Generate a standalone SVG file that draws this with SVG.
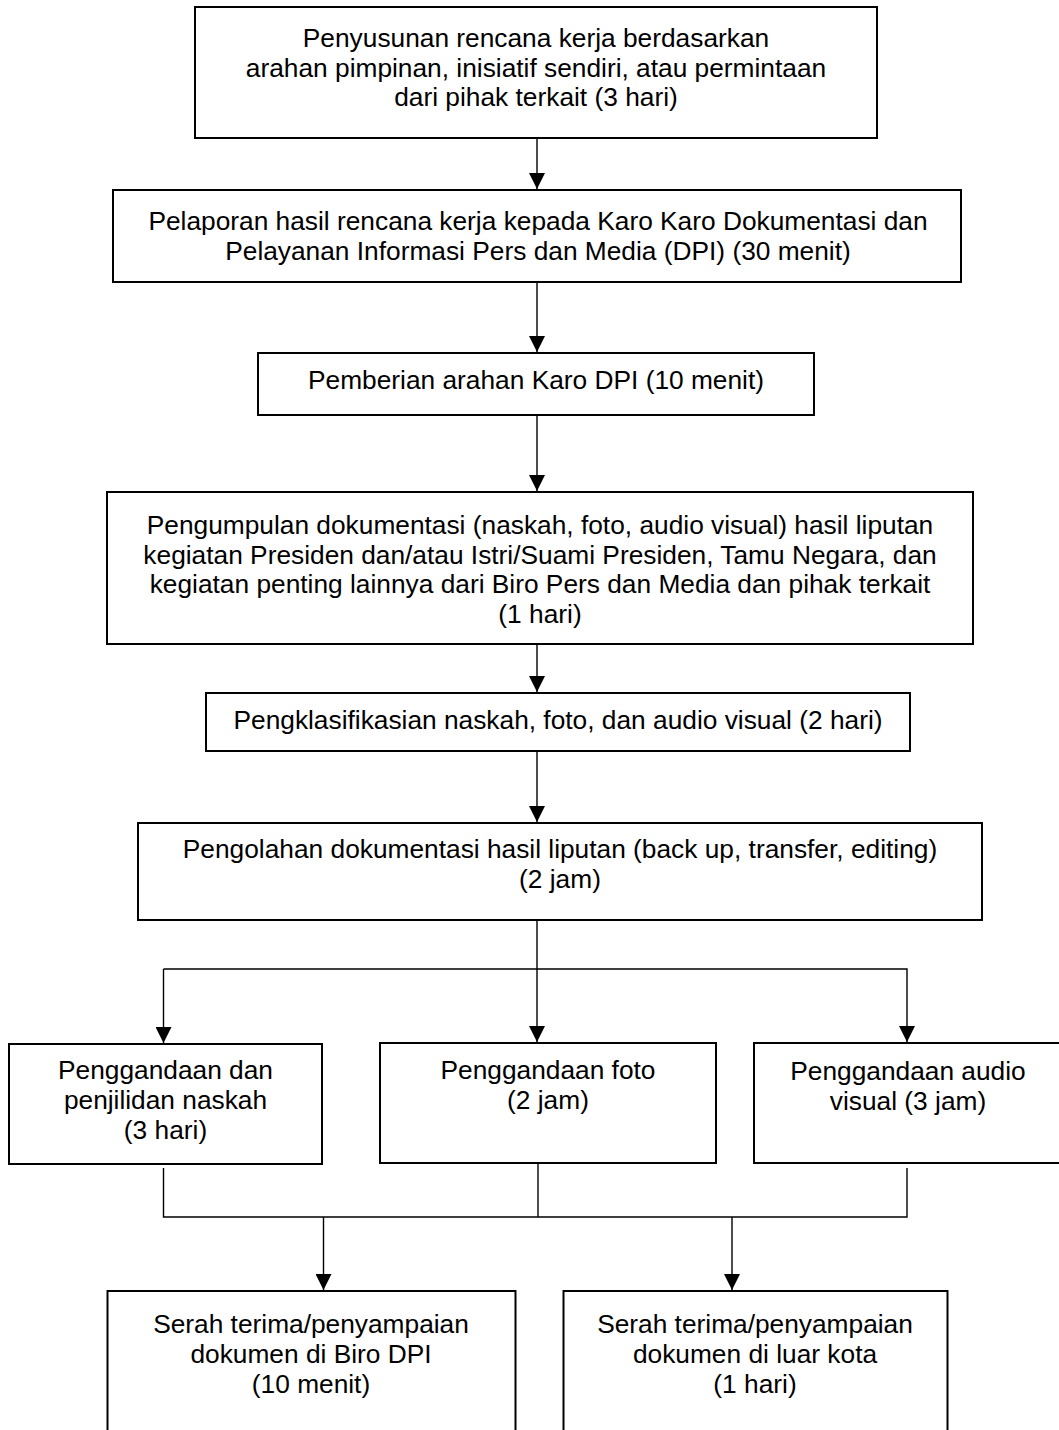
<svg xmlns="http://www.w3.org/2000/svg" width="1059" height="1430" viewBox="0 0 1059 1430">
<style>
.box{fill:#fff;stroke:#000;stroke-width:2}
.t{font-family:"Liberation Sans",Arial,sans-serif;font-size:26.3px;fill:#000;text-anchor:middle}
.c{fill:none;stroke:#000;stroke-width:1.4}
</style>
<defs>
<marker id="ah" markerUnits="userSpaceOnUse" markerWidth="16" markerHeight="16" refX="16" refY="8" orient="auto" viewBox="0 0 16 16">
<path d="M0,0 L16,8 L0,16 z" fill="#000"/>
</marker>
</defs>
<rect width="1059" height="1430" fill="#fff"/>
<g id="connectors">
<line class="c" x1="537" y1="138" x2="537" y2="189" marker-end="url(#ah)"/>
<line class="c" x1="537" y1="282" x2="537" y2="352" marker-end="url(#ah)"/>
<line class="c" x1="537" y1="415" x2="537" y2="491" marker-end="url(#ah)"/>
<line class="c" x1="537" y1="644" x2="537" y2="692" marker-end="url(#ah)"/>
<line class="c" x1="537" y1="751" x2="537" y2="822" marker-end="url(#ah)"/>
<line class="c" x1="537" y1="920" x2="537" y2="1042" marker-end="url(#ah)"/>
<polyline class="c" points="163.5,969 907,969 907,1042" marker-end="url(#ah)"/>
<line class="c" x1="163.5" y1="969" x2="163.5" y2="1043" marker-end="url(#ah)"/>
<polyline class="c" points="163.5,1168 163.5,1217 907,1217 907,1168"/>
<line class="c" x1="538" y1="1164" x2="538" y2="1217"/>
<line class="c" x1="323.5" y1="1217" x2="323.5" y2="1290" marker-end="url(#ah)"/>
<line class="c" x1="732" y1="1217" x2="732" y2="1290" marker-end="url(#ah)"/>
</g>
<g id="n1"><rect class="box" x="195" y="7" width="682" height="131"/>
<text class="t" x="536" y="47">Penyusunan rencana kerja berdasarkan</text>
<text class="t" x="536" y="76.5">arahan pimpinan, inisiatif sendiri, atau permintaan</text>
<text class="t" x="536" y="106">dari pihak terkait (3 hari)</text></g>
<g id="n2"><rect class="box" x="113" y="190" width="848" height="92"/>
<text class="t" x="538" y="230">Pelaporan hasil rencana kerja kepada Karo Karo Dokumentasi dan</text>
<text class="t" x="538" y="259.5">Pelayanan Informasi Pers dan Media (DPI) (30 menit)</text></g>
<g id="n3"><rect class="box" x="258" y="353" width="556" height="62"/>
<text class="t" x="536" y="389">Pemberian arahan Karo DPI (10 menit)</text></g>
<g id="n4"><rect class="box" x="107" y="492" width="866" height="152"/>
<text class="t" x="540" y="534">Pengumpulan dokumentasi (naskah, foto, audio visual) hasil liputan</text>
<text class="t" x="540" y="563.5">kegiatan Presiden dan/atau Istri/Suami Presiden, Tamu Negara, dan</text>
<text class="t" x="540" y="593">kegiatan penting lainnya dari Biro Pers dan Media dan pihak terkait</text>
<text class="t" x="540" y="622.5">(1 hari)</text></g>
<g id="n5"><rect class="box" x="206" y="693" width="704" height="58"/>
<text class="t" x="558" y="729">Pengklasifikasian naskah, foto, dan audio visual (2 hari)</text></g>
<g id="n6"><rect class="box" x="138" y="823" width="844" height="97"/>
<text class="t" x="560" y="858">Pengolahan dokumentasi hasil liputan (back up, transfer, editing)</text>
<text class="t" x="560" y="888">(2 jam)</text></g>
<g id="n7"><rect class="box" x="9" y="1044" width="313" height="120"/>
<text class="t" x="165.5" y="1079">Penggandaan dan</text>
<text class="t" x="165.5" y="1109">penjilidan naskah</text>
<text class="t" x="165.5" y="1139">(3 hari)</text></g>
<g id="n8"><rect class="box" x="380" y="1043" width="336" height="120"/>
<text class="t" x="548" y="1079">Penggandaan foto</text>
<text class="t" x="548" y="1109">(2 jam)</text></g>
<g id="n9"><rect class="box" x="754" y="1043" width="308" height="120"/>
<text class="t" x="908" y="1080">Penggandaan audio</text>
<text class="t" x="908" y="1110">visual (3 jam)</text></g>
<g id="n10"><rect class="box" x="107.5" y="1291" width="408" height="160"/>
<text class="t" x="311" y="1333">Serah terima/penyampaian</text>
<text class="t" x="311" y="1363">dokumen di Biro DPI</text>
<text class="t" x="311" y="1393">(10 menit)</text></g>
<g id="n11"><rect class="box" x="563.5" y="1291" width="384" height="160"/>
<text class="t" x="755" y="1333">Serah terima/penyampaian</text>
<text class="t" x="755" y="1363">dokumen di luar kota</text>
<text class="t" x="755" y="1393">(1 hari)</text></g>
</svg>
